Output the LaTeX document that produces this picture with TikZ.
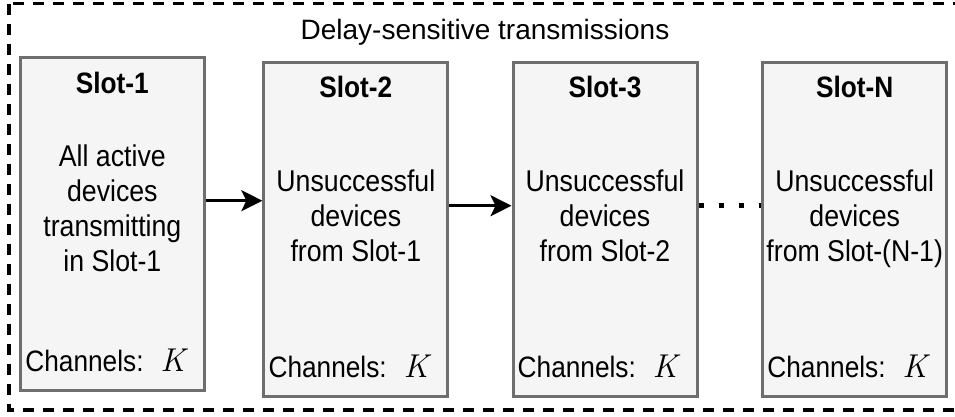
\documentclass[tikz,border=0pt]{standalone}
\usepackage{fontspec}
\setmainfont{Liberation Sans}
\newfontfamily\bodyfont{Liberation Sans}[FakeStretch=0.89]
\newfontfamily\symfont{Latin Modern Roman}
\usetikzlibrary{arrows.meta,calc}
\definecolor{slotfill}{HTML}{F5F5F5}
\definecolor{slotline}{HTML}{6E6E6E}

\begin{document}
\begin{tikzpicture}[x=1pt,y=-1pt,
  slotbox/.style={draw=slotline, fill=slotfill, line width=3pt, inner sep=0pt,
    minimum width=184pt, minimum height=334.7pt},
  slothead/.style={font=\bodyfont\bfseries\fontsize{29.5}{32}\selectfont,
    anchor=base, inner sep=0pt},
  slotbody/.style={font=\bodyfont\fontsize{30}{35}\selectfont, align=center,
    anchor=north, inner sep=0pt},
  chanlabel/.style={font=\bodyfont\fontsize{29.5}{32}\selectfont,
    anchor=base west, inner sep=0pt},
  chansym/.style={font=\symfont\itshape\fontsize{33}{33}\selectfont, anchor=base west, inner sep=0pt},
  flow/.style={line width=3pt, -{Stealth[length=21pt,width=21pt,inset=5pt]}},
  dotrun/.style={line width=5.5pt, dash pattern=on 5pt off 15pt},
  frame/.style={line width=3.3pt, dash pattern=on 11pt off 9pt},
  headline/.style={font=\fontsize{28}{30}\selectfont, anchor=base, inner sep=0pt}
]
\useasboundingbox (0,0) rectangle (955,416);

% enclosing group
\draw[frame] (9,3.6) rectangle (960,410);
\node[headline] (title) at (485,39) {Delay-sensitive transmissions};

% slots
\node[slotbox, minimum width=183.3pt, minimum height=333.2pt] (s1) at (112.35,224.1) {};
\node[slotbox] (s2) at (355.85,229.35) {};
\node[slotbox] (s3) at (605,229.35) {};
\node[slotbox] (sN) at (854.7,229.35) {};

% slot headings
\node[slothead] (h1) at ($(s1.north)+(0,37)$) {Slot-1};
\node[slothead] (h2) at ($(s2.north)+(0,37)$) {Slot-2};
\node[slothead] (h3) at ($(s3.north)+(0,37)$) {Slot-3};
\node[slothead] (hN) at ($(sN.north)+(0,37)$) {Slot-N};

% slot contents
\node[slotbody] (b1) at ($(s1.center)+(0,-79.1)$) {All active\\devices\\transmitting\\in Slot-1};
\node[slotbody] (b2) at ($(s2.center)+(0,-59.35)$) {Unsuccessful\\devices\\from Slot-1};
\node[slotbody] (b3) at ($(s3.center)+(0,-59.35)$) {Unsuccessful\\devices\\from Slot-2};
\node[slotbody] (bN) at ($(sN.center)+(0,-59.35)$) {Unsuccessful\\devices\\from Slot-(N-1)};

% channel counts
\foreach \s in {s1,s2,s3,sN}{
  \node[chanlabel] (c-\s) at ($(\s.south west)+(6,-20.5)$) {Channels:};
  \node[chansym] (k-\s) at ($(\s.south west)+(141,-20.5)$) {K};
}

% transitions
\coordinate (a1) at (0,200.7);
\coordinate (a2) at (0,205.7);
\coordinate (d1) at (0,205.5);
\draw[flow] (s1.east |- a1) -- (s2.west |- a1);
\draw[flow] (s2.east |- a2) -- (s3.west |- a2);
\draw[dotrun] (s3.east |- d1) -- (sN.west |- d1);
\end{tikzpicture}
\end{document}
